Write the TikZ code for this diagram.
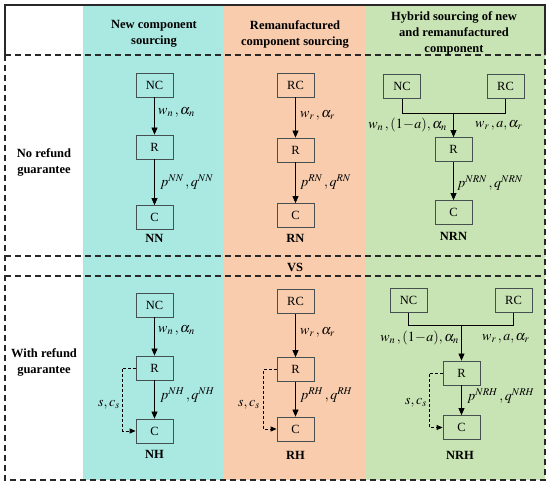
\documentclass[tikz,border=0pt]{standalone}
\usepackage{mathptmx}
\usepackage[no-math]{fontspec}
\setmainfont{Liberation Serif}
\usetikzlibrary{arrows.meta}
\definecolor{cyanbg}{RGB}{170,232,226}
\definecolor{orangebg}{RGB}{248,204,173}
\definecolor{greenbg}{RGB}{201,228,180}
\definecolor{boxline}{RGB}{70,80,80}
\definecolor{frameline}{RGB}{40,40,40}
\begin{document}
\begin{tikzpicture}[x=1pt,y=-1pt,
  box/.style={draw=boxline, line width=0.8pt, minimum width=37pt, minimum height=24pt, inner sep=0pt, font=\fontsize{12.5}{14}\selectfont},
  flow/.style={-{Triangle[length=7pt,width=6pt]}, line width=0.8pt},
  fb/.style={dash pattern=on 3pt off 2pt, line width=0.8pt, -{Triangle[length=6pt,width=5pt]}},
  sepline/.style={draw=frameline, line width=1.3pt, dash pattern=on 6pt off 4pt},
  hdr/.style={font=\fontsize{12.5}{16}\selectfont\bfseries, align=center, inner sep=0pt},
  lab/.style={font=\fontsize{14}{16}\selectfont, inner sep=0pt},
  ]
\useasboundingbox (0,0) rectangle (550,484);
\fill[white] (0,0) rectangle (550,484);
% column backgrounds
\fill[cyanbg] (83,5) rectangle (223,480);
\fill[orangebg] (223,5) rectangle (366,480);
\fill[greenbg] (366,5) rectangle (545,480);
% frame
\draw[draw=frameline, line width=1.3pt] (5,55) -- (5,5) -- (545,5) -- (545,55);
\draw[sepline] (5,55) -- (5,480) -- (545,480) -- (545,55);
\draw[sepline] (5,55) -- (545,55);
\draw[sepline] (5,256) -- (545,256);
\draw[sepline] (5,276) -- (545,276);

% headers
\node[hdr] (h1) at (154,34) {New component\\sourcing};
\node[hdr] (h2) at (295,34) {Remanufactured\\component sourcing};
\node[hdr] (h3) at (454,33) {Hybrid sourcing of new\\and remanufactured\\component};
\node[hdr] (r1) at (44,162) {No refund\\guarantee};
\node[hdr] (r2) at (44,362) {With refund\\guarantee};
\node[hdr] (vs) at (295,267) {VS};

% ---- upper row ----
\node[box] (NC1) at (154.5,85) {NC};
\node[box] (R1) at (154.5,147) {R};
\node[box] (C1) at (154.5,217.5) {C};
\draw[flow] (NC1) -- (R1);
\draw[flow] (R1) -- (C1);
\node[lab, anchor=west] (l1a) at (158,112) {$w_n\,,\alpha_n$};
\node[lab, anchor=west] (l1b) at (160,182) {$p^{NN}\,,q^{NN}$};
\node[hdr] (nn) at (154.5,238) {NN};

\node[box] (RC2) at (295.5,85) {RC};
\node[box] (R2) at (295.5,150) {R};
\node[box] (C2) at (295.5,215.5) {C};
\draw[flow] (RC2) -- (R2);
\draw[flow] (R2) -- (C2);
\node[lab, anchor=west] (l2a) at (300,115) {$w_r\,,\alpha_r$};
\node[lab, anchor=west] (l2b) at (300,182) {$p^{RN}\,,q^{RN}$};
\node[hdr] (rn) at (295.5,238) {RN};

\node[box] (NC3) at (402,86.5) {NC};
\node[box] (RC3) at (505.5,86.5) {RC};
\coordinate (J3) at (453.5,113);
\node[box] (R3) at (453.5,149.5) {R};
\node[box] (C3) at (453.5,212.5) {C};
\draw[line width=0.8pt] (NC3.south) |- (J3);
\draw[line width=0.8pt] (RC3.south) |- (J3);
\draw[flow] (J3) -- (R3);
\draw[flow] (R3) -- (C3);
\node[lab, anchor=east] (l3a) at (447,125) {$w_n\,,(1\!-\!a),\alpha_n$};
\node[lab, anchor=west] (l3b) at (475,125) {$w_r\,,a,\alpha_r$};
\node[lab, anchor=west] (l3c) at (457,183) {$p^{NRN}\,,q^{NRN}$};
\node[hdr] (nrn) at (453.5,236) {NRN};

% ---- lower row ----
\node[box] (NC4) at (154.5,305) {NC};
\node[box] (R4) at (154.5,368) {R};
\node[box] (C4) at (154.5,431) {C};
\draw[flow] (NC4) -- (R4);
\draw[flow] (R4) -- (C4);
\draw[fb] (R4.west) -- ++(-13.5,0) |- (C4.west);
\node[lab, anchor=west] (l4a) at (158,330) {$w_n\,,\alpha_n$};
\node[lab, anchor=west] (l4b) at (160,395) {$p^{NH}\,,q^{NH}$};
\node[lab, anchor=east] (l4c) at (120,405) {$s,c_s$};
\node[hdr] (nh) at (154.5,454) {NH};

\node[box] (RC5) at (295.5,301.5) {RC};
\node[box] (R5) at (295.5,369.5) {R};
\node[box] (C5) at (295.5,429) {C};
\draw[flow] (RC5) -- (R5);
\draw[flow] (R5) -- (C5);
\draw[fb] (R5.west) -- ++(-13.5,0) |- (C5.west);
\node[lab, anchor=west] (l5a) at (300,332) {$w_r\,,\alpha_r$};
\node[lab, anchor=west] (l5b) at (300,395) {$p^{RH}\,,q^{RH}$};
\node[lab, anchor=east] (l5c) at (260,405) {$s,c_s$};
\node[hdr] (rh) at (295.5,455) {RH};

\node[box] (NC6) at (408.5,300.5) {NC};
\node[box] (RC6) at (513.5,300.5) {RC};
\coordinate (J6) at (461.5,325);
\node[box] (R6) at (461.5,373) {R};
\node[box] (C6) at (461.5,427.5) {C};
\draw[line width=0.8pt] (NC6.south) |- (J6);
\draw[line width=0.8pt] (RC6.south) |- (J6);
\draw[flow] (J6) -- (R6);
\draw[flow] (R6) -- (C6);
\draw[fb] (R6.west) -- ++(-13.5,0) |- (C6.west);
\node[lab, anchor=east] (l6a) at (459,338) {$w_n\,,(1\!-\!a),\alpha_n$};
\node[lab, anchor=west] (l6b) at (482,338) {$w_r\,,a,\alpha_r$};
\node[lab, anchor=west] (l6c) at (467,396) {$p^{NRH}\,,q^{NRH}$};
\node[lab, anchor=east] (l6d) at (427,403) {$s,c_s$};
\node[hdr] (nrh) at (460,455) {NRH};
\end{tikzpicture}
\end{document}
